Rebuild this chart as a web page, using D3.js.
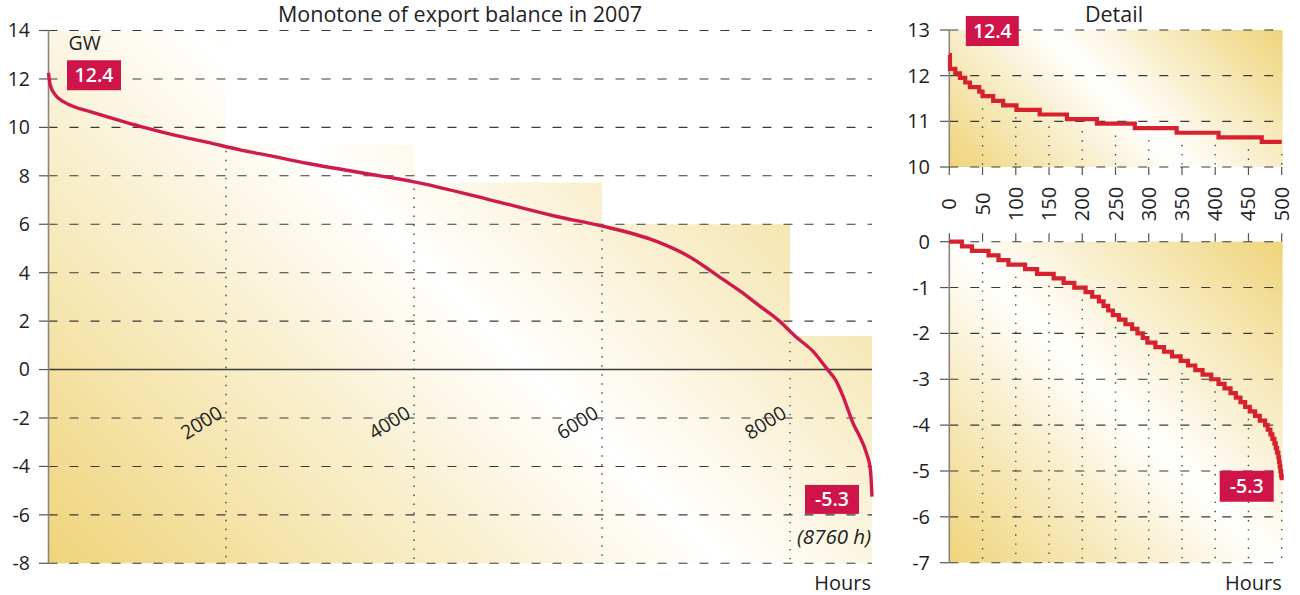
<!DOCTYPE html>
<html>
<head>
<meta charset="utf-8">
<script src="https://cdn.jsdelivr.net/npm/d3@7"></script>
<style>
  body { margin: 0; background: #ffffff; }
  svg text { font-family: "Open Sans", "Noto Sans", sans-serif; fill: #222; }
</style>
</head>
<body>
<script>
// ---------------- DATA ----------------
// Main chart: load-duration (monotone) curve of the export balance, GW vs hours
const mainHours = [0, 18, 72, 159, 266, 443, 797, 1046, 1329, 1684, 2038, 2392, 2747, 3526, 3877, 4696, 5405, 5883, 6468, 6822, 7176, 7354, 7567, 7776, 7950, 8133, 8275, 8381, 8452, 8505, 8558, 8629, 8700, 8743, 8760];
const mainGW    = [12.25, 11.75, 11.34, 11.06, 10.86, 10.65, 10.24, 9.97, 9.69, 9.39, 9.07, 8.80, 8.52, 8.0, 7.76, 7.01, 6.32, 5.93, 5.29, 4.65, 3.72, 3.25, 2.62, 2.0, 1.35, 0.75, 0.06, -0.49, -1.11, -1.66, -2.21, -2.76, -3.44, -4.13, -5.25];
const mainYTicks = [-8, -6, -4, -2, 0, 2, 4, 6, 8, 10, 12, 14];
const mainXTicks = [2000, 4000, 6000, 8000];
// shaded step blocks behind the main curve
const blockFrom = [0, 2000, 4000, 6000, 8000];
const blockTo   = [2000, 4000, 6000, 8000, 8760];
const blockTop  = [14, 9.28, 7.72, 6.0, 1.39];

// Detail, first 500 hours
const detailTopHours = [0, 1, 9, 16, 24, 31, 45, 50, 66, 81, 101, 136, 177, 222, 279, 342, 405, 470, 500];
const detailTopGW    = [12.45, 12.15, 12.05, 11.95, 11.85, 11.75, 11.65, 11.55, 11.45, 11.35, 11.25, 11.15, 11.05, 10.95, 10.85, 10.75, 10.65, 10.55, 10.55];
// Detail, last 500 hours
const detailBotHours = [0, 19, 34, 59, 74, 89, 114, 132, 157, 172, 188, 205, 215, 225, 232, 239, 246, 255, 265, 275, 283, 291, 298, 310, 323, 335, 348, 359, 370, 381, 394, 405, 414, 423, 431, 438, 445, 452, 460, 467, 475, 479, 483, 486, 489, 491, 493, 495, 496, 497, 498, 499, 500];
const detailBotGW    = [0, -0.1, -0.2, -0.3, -0.4, -0.5, -0.6, -0.7, -0.8, -0.9, -1.0, -1.1, -1.2, -1.3, -1.4, -1.5, -1.6, -1.7, -1.8, -1.9, -2.0, -2.1, -2.2, -2.3, -2.4, -2.5, -2.6, -2.7, -2.8, -2.9, -3.0, -3.1, -3.2, -3.3, -3.4, -3.5, -3.6, -3.7, -3.8, -3.9, -4.0, -4.1, -4.2, -4.3, -4.4, -4.5, -4.6, -4.7, -4.8, -4.9, -5.0, -5.1, -5.2];
const detailXTicks = [0, 50, 100, 150, 200, 250, 300, 350, 400, 450, 500];
const detailTopYTicks = [10, 11, 12, 13];
const detailBotYTicks = [-7, -6, -5, -4, -3, -2, -1, 0];

const maxLabel = "12.4", minLabel = "-5.3";

// ---------------- STYLE ----------------
const RED_MAIN = "#cf1a4b", RED_DET = "#d6222e", BOX = "#cf144a";
const YELLOW = "#efd47a";
const GRID = "#3a3a3a", AXIS = "#8a8580", DOT = "#444";

const svg = d3.select("body").append("svg").attr("width", 1300).attr("height", 595);
const defs = svg.append("defs");

function diagGradient(id, x0, x1, y0, y1) {
  const cx = (x0 + x1) / 2, cy = (y0 + y1) / 2, L = ((x1 - x0) + (y1 - y0)) / 4;
  const g = defs.append("linearGradient").attr("id", id).attr("gradientUnits", "userSpaceOnUse")
    .attr("x1", cx - L).attr("y1", cy + L).attr("x2", cx + L).attr("y2", cy - L);
  g.append("stop").attr("offset", 0).attr("stop-color", YELLOW);
  g.append("stop").attr("offset", 0.5).attr("stop-color", "#ffffff");
  g.append("stop").attr("offset", 1).attr("stop-color", YELLOW);
}

function hGrid(g, scale, ticks, xa, xb, tickLeft, labelX, fs, solidAt) {
  ticks.forEach(t => {
    const yy = scale(t);
    g.append("line").attr("x1", tickLeft).attr("x2", xa).attr("y1", yy).attr("y2", yy)
      .attr("stroke", "#555").attr("stroke-width", 1.2);
    g.append("line").attr("x1", xa).attr("x2", xb).attr("y1", yy).attr("y2", yy)
      .attr("stroke", GRID).attr("stroke-width", t === solidAt ? 1.6 : 1.1)
      .attr("stroke-dasharray", t === solidAt ? null : "9,12");
    g.append("text").attr("x", labelX).attr("y", yy).attr("dy", "0.35em")
      .attr("text-anchor", "end").style("font-size", fs + "px").text(t);
  });
}

function labelBox(cx, cy, w, h, txt) {
  svg.append("rect").attr("x", cx - w / 2).attr("y", cy - h / 2).attr("width", w).attr("height", h).attr("fill", BOX);
  svg.append("text").attr("x", cx).attr("y", cy).attr("dy", "0.36em").attr("text-anchor", "middle")
    .style("font-size", "19.5px").style("font-weight", 600).style("fill", "#fff").text(txt);
}

// ---------------- MAIN CHART ----------------
const x = d3.scaleLinear().domain([0, 8760]).range([48.5, 872]);
const xT = d3.scaleLinear().domain([0, 8000]).range([38, 790]);   // tick / block positions
const y = d3.scaleLinear().domain([-8, 14]).range([563.3, 30.5]);
const [px0, px1] = x.range();
const [py1, py0] = y.range();
diagGradient("gMain", px0, px1, py0, py1);

const gm = svg.append("g");
blockFrom.forEach((f, i) => {
  const l = Math.max(xT(f), px0);
  const r = i === blockFrom.length - 1 ? px1 : xT(blockTo[i]);
  gm.append("rect").attr("x", l).attr("y", y(blockTop[i])).attr("width", r - l)
    .attr("height", y(-8) - y(blockTop[i])).attr("fill", "url(#gMain)");
});
hGrid(gm, y, mainYTicks, px0, px1, 39, 30, 19.5, 0);

mainXTicks.forEach((t, i) => {
  const xx = xT(t);
  gm.append("line").attr("x1", xx).attr("x2", xx).attr("y1", y(blockTop[i + 1]) + 6).attr("y2", y(-8))
    .attr("stroke", DOT).attr("stroke-width", 1.4).attr("stroke-dasharray", "1.4,7.6");
  gm.append("text").attr("transform", `translate(${xx - 2},${y(-2) - 1.5}) rotate(-32)`)
    .attr("text-anchor", "end").style("font-size", "19.5px").text(t);
});
gm.append("line").attr("x1", px0).attr("x2", px0).attr("y1", y(14)).attr("y2", y(-8))
  .attr("stroke", AXIS).attr("stroke-width", 1.6);

const mainLine = d3.line().x((d, i) => x(mainHours[i])).y(d => y(d)).curve(d3.curveMonotoneX);
gm.append("path").datum(mainGW).attr("d", mainLine).attr("fill", "none")
  .attr("stroke", RED_MAIN).attr("stroke-width", 3.4);

svg.append("text").attr("x", 460).attr("y", 22).attr("text-anchor", "middle").style("font-size", "21.5px")
  .text("Monotone of export balance in 2007");
svg.append("text").attr("x", px0 + 20).attr("y", 50).style("font-size", "19.5px").text("GW");
svg.append("text").attr("x", px1 - 1).attr("y", 544).attr("text-anchor", "end").style("font-size", "20.5px")
  .style("font-style", "italic").text("(8760 h)");
svg.append("text").attr("x", px1 - 1).attr("y", 590).attr("text-anchor", "end").style("font-size", "20px").text("Hours");
labelBox(px0 + 45.5, y(12.4) + 6, 54, 30, maxLabel);
labelBox(px1 - 40, y(-5.3) + 1.5, 54, 29, minLabel);

// ---------------- DETAIL CHARTS ----------------
const xd = d3.scaleLinear().domain([0, 500]).range([949.3, 1281.7]);
const ydT = d3.scaleLinear().domain([10, 13]).range([167, 30]);
const ydB = d3.scaleLinear().domain([-7, 0]).range([562.7, 241.7]);
const [dx0, dx1] = xd.range();
diagGradient("gTop", dx0, dx1 + 1, ydT(13), ydT(10));
diagGradient("gBot", dx0, dx1 + 1, ydB(0), ydB(-7));

function stepValue(hs, vs, h) {
  const i = d3.bisectRight(hs, h) - 1;
  return vs[Math.max(0, i)];
}

function detailPanel(ys, yTicks, hs, vs, gradId, ticksBelow) {
  const g = svg.append("g");
  const yTop = ys.range()[1], yBot = ys.range()[0];
  g.append("rect").attr("x", dx0).attr("y", yTop).attr("width", dx1 + 1 - dx0).attr("height", yBot - yTop)
    .attr("fill", `url(#${gradId})`);
  hGrid(g, ys, yTicks, dx0, dx1 + 1, 940, 930, 20, null);
  detailXTicks.forEach(t => {
    const xx = xd(t);
    if (t > 0) {
      g.append("line").attr("x1", xx).attr("x2", xx).attr("y1", ys(stepValue(hs, vs, t)) + 12).attr("y2", yBot)
        .attr("stroke", DOT).attr("stroke-width", 1.4).attr("stroke-dasharray", "1.4,7.8");
    }
    if (ticksBelow) {
      g.append("line").attr("x1", xx).attr("x2", xx).attr("y1", yBot).attr("y2", yBot + 8)
        .attr("stroke", "#555").attr("stroke-width", 1.2);
    } else {
      g.append("line").attr("x1", xx).attr("x2", xx).attr("y1", yTop - 8.5).attr("y2", yTop)
        .attr("stroke", "#555").attr("stroke-width", 1.2);
    }
  });
  g.append("line").attr("x1", dx0).attr("x2", dx0).attr("y1", yTop).attr("y2", yBot)
    .attr("stroke", AXIS).attr("stroke-width", 1.6);
  const line = d3.line().x((d, i) => xd(hs[i])).y(d => ys(d)).curve(d3.curveStepAfter);
  g.append("path").datum(vs).attr("d", line).attr("fill", "none")
    .attr("stroke", RED_DET).attr("stroke-width", 4.2).attr("stroke-linejoin", "miter");
  return g;
}

const gTop = detailPanel(ydT, detailTopYTicks, detailTopHours, detailTopGW, "gTop", true);
detailXTicks.forEach(t => {
  gTop.append("text").attr("transform", `translate(${xd(t)},204) rotate(-90)`).attr("dy", "0.35em")
    .attr("text-anchor", "middle").style("font-size", "20px").text(t);
});
detailPanel(ydB, detailBotYTicks, detailBotHours, detailBotGW, "gBot", false);

svg.append("text").attr("x", 1114).attr("y", 22).attr("text-anchor", "middle").style("font-size", "21.5px").text("Detail");
svg.append("text").attr("x", dx1).attr("y", 590).attr("text-anchor", "end").style("font-size", "20px").text("Hours");
labelBox(xd(0) + 43, ydT(13) + 1, 53, 30, maxLabel);
labelBox(xd(500) - 35, ydB(-5.3) + 1.5, 54, 31, minLabel);
</script>
</body>
</html>
